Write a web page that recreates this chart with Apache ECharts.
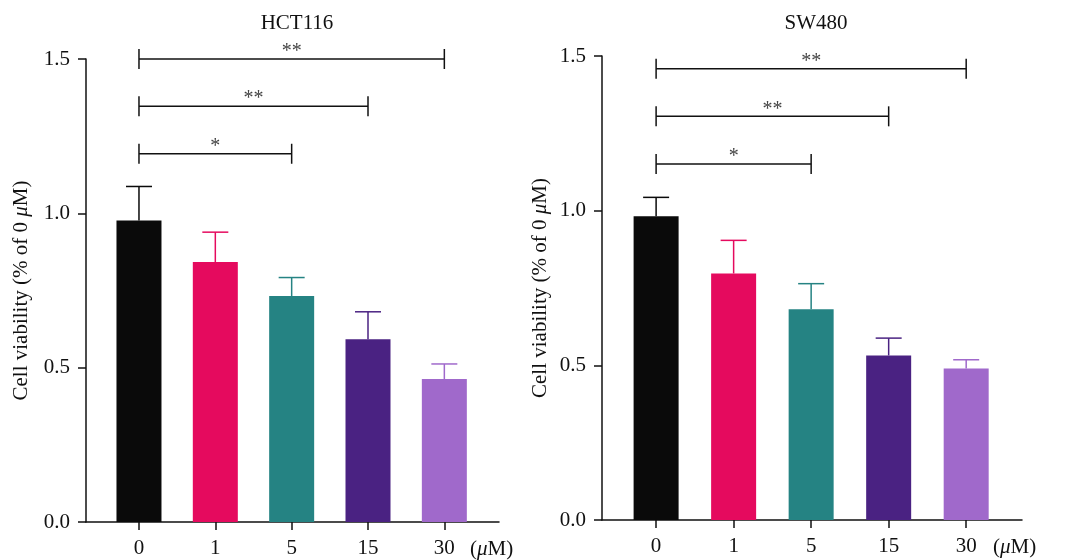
<!DOCTYPE html>
<html>
<head>
<meta charset="utf-8">
<script src="https://cdn.jsdelivr.net/npm/echarts@6/dist/echarts.min.js"></script>
<style>html,body{margin:0;padding:0;background:#fff;}#c{width:1067px;height:560px;}</style>
</head>
<body>
<div id="c"></div>
<script>
// ---- data ----
var categories = ['0', '1', '5', '15', '30'];
var colors = ['#0a0a0a', '#e50a5e', '#258383', '#4a2282', '#a069cb'];
var yTicks = [0, 0.5, 1.0, 1.5];

var hctMean = [0.977, 0.842, 0.732, 0.592, 0.463];
var hctErr  = [1.087, 0.939, 0.792, 0.681, 0.512];
// brackets: [fromIndex, toIndex, yValue, label]
var hctSig  = [[0, 2, 1.193, '*'], [0, 3, 1.347, '**'], [0, 4, 1.5, '**']];

var swMean = [0.982, 0.797, 0.681, 0.532, 0.490];
var swErr  = [1.043, 0.904, 0.764, 0.588, 0.518];
var swSig  = [[0, 2, 1.151, '*'], [0, 3, 1.305, '**'], [0, 4, 1.459, '**']];

var titles = ['HCT116', 'SW480'];

// ---- chart ----
var FONT = '"Liberation Serif", "Times New Roman", serif';
var FS = 21;
var chart = echarts.init(document.getElementById('c'), null, {renderer: 'canvas'});

var grids = [
  {left: 86, right: 568, top: 59, bottom: 38},
  {left: 602, right: 45, top: 56, bottom: 40}
];
var xRanges = [[-0.694, 4.716], [-0.698, 4.72]];

function xAxisFor(i) {
  return {
    type: 'value', gridIndex: i, min: xRanges[i][0], max: xRanges[i][1],
    splitLine: {show: false},
    axisLine: {show: true, onZero: false, lineStyle: {color: '#111', width: 1.5}},
    axisTick: {show: true, customValues: [0, 1, 2, 3, 4], length: 8, lineStyle: {color: '#111', width: 1.5}},
    axisLabel: {
      customValues: [0, 1, 2, 3, 4], margin: 16,
      formatter: function (v) { return categories[Math.round(v)]; },
      fontFamily: FONT, fontSize: FS, color: '#111'
    },
    name: '({i|μ}M)', nameLocation: 'end', nameGap: -29,
    nameTextStyle: {
      fontFamily: FONT, fontSize: FS, color: '#111', verticalAlign: 'top', padding: [17, 0, 0, 0],
      rich: {i: {fontStyle: 'italic', fontFamily: FONT, fontSize: FS, color: '#111'}}
    }
  };
}
function yAxisFor(i) {
  return {
    type: 'value', gridIndex: i, min: 0, max: 1.5, interval: 0.5,
    splitLine: {show: false},
    axisLine: {show: true, onZero: false, lineStyle: {color: '#111', width: 1.5}},
    axisTick: {show: true, length: 8, lineStyle: {color: '#111', width: 1.5}},
    axisLabel: {
      formatter: function (v) { return v.toFixed(1); }, margin: 16,
      fontFamily: FONT, fontSize: FS, color: '#111'
    },
    name: 'Cell viability (% of 0 {i|μ}M)', nameLocation: 'middle', nameGap: i === 0 ? 54 : 51,
    nameTextStyle: {
      fontFamily: FONT, fontSize: FS, color: '#111',
      rich: {i: {fontStyle: 'italic', fontFamily: FONT, fontSize: FS, color: '#111'}}
    }
  };
}

function barSeries(i, means) {
  return {
    type: 'bar', xAxisIndex: i, yAxisIndex: i, barWidth: 45,
    data: means.map(function (m, k) { return {value: [k, m], itemStyle: {color: colors[k]}}; }),
    z: 2
  };
}
function errSeries(i, means, errs) {
  return {
    type: 'custom', xAxisIndex: i, yAxisIndex: i, z: 3,
    data: means.map(function (m, k) { return [k, m, errs[k]]; }),
    renderItem: function (params, api) {
      var k = api.value(0);
      var p0 = api.coord([k, api.value(1)]);
      var p1 = api.coord([k, api.value(2)]);
      var c = colors[k];
      return {type: 'group', children: [
        {type: 'line', shape: {x1: p0[0], y1: p0[1], x2: p1[0], y2: p1[1]}, style: {stroke: c, lineWidth: 1.5}},
        {type: 'line', shape: {x1: p1[0] - 13, y1: p1[1], x2: p1[0] + 13, y2: p1[1]}, style: {stroke: c, lineWidth: 1.5}}
      ]};
    }
  };
}
function sigSeries(i, sig) {
  return {
    type: 'custom', xAxisIndex: i, yAxisIndex: i, z: 4, clip: false,
    data: sig,
    renderItem: function (params, api) {
      var a = api.coord([api.value(0), api.value(2)]);
      var b = api.coord([api.value(1), api.value(2)]);
      var lab = sig[params.dataIndex][3];
      var st = {stroke: '#111', lineWidth: 1.5};
      return {type: 'group', children: [
        {type: 'line', shape: {x1: a[0], y1: a[1], x2: b[0], y2: b[1]}, style: st},
        {type: 'line', shape: {x1: a[0], y1: a[1] - 10, x2: a[0], y2: a[1] + 10}, style: st},
        {type: 'line', shape: {x1: b[0], y1: b[1] - 10, x2: b[0], y2: b[1] + 10}, style: st},
        {type: 'text', style: {text: lab, x: (a[0] + b[0]) / 2, y: a[1] + 3, align: 'center', verticalAlign: 'bottom',
          font: '20px ' + FONT, fill: '#444'}}
      ]};
    }
  };
}

chart.setOption({
  animation: false,
  backgroundColor: '#fff',
  title: [
    {text: titles[0], left: 292, top: 8, textAlign: 'center', textStyle: {fontFamily: FONT, fontSize: 21, fontWeight: 'normal', color: '#111'}},
    {text: titles[1], left: 811, top: 8, textAlign: 'center', textStyle: {fontFamily: FONT, fontSize: 21, fontWeight: 'normal', color: '#111'}}
  ],
  grid: grids,
  xAxis: [xAxisFor(0), xAxisFor(1)],
  yAxis: [yAxisFor(0), yAxisFor(1)],
  series: [
    barSeries(0, hctMean), errSeries(0, hctMean, hctErr), sigSeries(0, hctSig),
    barSeries(1, swMean), errSeries(1, swMean, swErr), sigSeries(1, swSig)
  ]
});
</script>
</body>
</html>
